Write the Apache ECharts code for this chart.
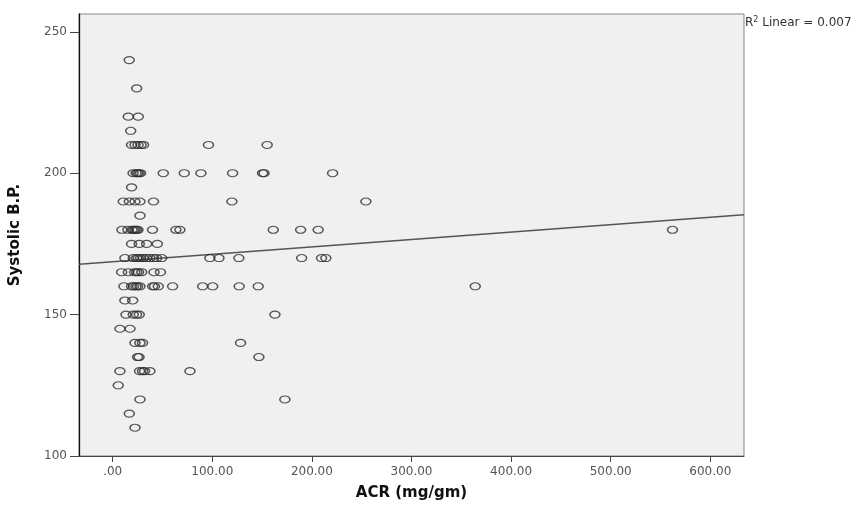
<!DOCTYPE html>
<html>
<head>
<meta charset="utf-8">
<script src="https://cdn.jsdelivr.net/npm/echarts@6/dist/echarts.min.js"></script>
<style>html,body{margin:0;padding:0;background:#fff}#c{width:861px;height:506px}</style>
</head>
<body>
<div id="c"></div>
<script>
// ACR (mg/gm) values and matching Systolic B.P. values
var acr = [
  16.6,
  24.1,
  15.7, 25.7,
  18.1,
  19, 22.5, 25.5, 28.5, 31, 96.2, 155.1,
  20.5, 23.5, 25, 26.5, 28, 50.8, 71.9, 88.6, 120.4, 150.5, 152, 220.8,
  19,
  10.6, 16.7, 22.4, 27.4, 41, 119.7, 254.2,
  27.4,
  9.3, 15.3, 19.4, 21, 22.4, 24, 25.4, 40, 63.5, 67.5, 161.2, 188.7, 206.3, 562,
  19, 26.7, 34.1, 44.8,
  12.3, 20.7, 24, 25.7, 28, 30.7, 34, 37.4, 41, 44.1, 49.2, 97.6, 106.7, 126.7, 189.7, 209.7, 214,
  9, 15.7, 22, 24.1, 26, 29.1, 41.5, 48,
  11.3, 19, 21, 23.4, 25, 27.4, 40.1, 42, 45.8, 60.2, 90.3, 100.4, 127, 146.1, 364,
  12.3, 20.1,
  13.4, 20.7, 24, 26.7, 162.9,
  7.3, 17.4,
  22.4, 27.4, 30, 128.4,
  25, 26.5, 146.8,
  7.3, 27, 30, 32, 37.4, 77.6,
  5.6,
  27.4, 172.9,
  16.7,
  22.4
];
var sbp = [
  240,
  230,
  220, 220,
  215,
  210, 210, 210, 210, 210, 210, 210,
  200, 200, 200, 200, 200, 200, 200, 200, 200, 200, 200, 200,
  195,
  190, 190, 190, 190, 190, 190, 190,
  185,
  180, 180, 180, 180, 180, 180, 180, 180, 180, 180, 180, 180, 180, 180,
  175, 175, 175, 175,
  170, 170, 170, 170, 170, 170, 170, 170, 170, 170, 170, 170, 170, 170, 170, 170, 170,
  165, 165, 165, 165, 165, 165, 165, 165,
  160, 160, 160, 160, 160, 160, 160, 160, 160, 160, 160, 160, 160, 160, 160,
  155, 155,
  150, 150, 150, 150, 150,
  145, 145,
  140, 140, 140, 140,
  135, 135, 135,
  130, 130, 130, 130, 130, 130,
  125,
  120, 120,
  115,
  110
];
// fitted linear line end points
var fitX = [-33.8, 633.8];
var fitY = [167.8, 185.3];
var xTicks = [0, 100, 200, 300, 400, 500, 600];
var yTicks = [100, 150, 200, 250];
var r2Label = '0.007';

var points = acr.map(function (v, i) { return [v, sbp[i]]; });
var fitLine = fitX.map(function (v, i) { return [v, fitY[i]]; });

var chart = echarts.init(document.getElementById('c'), null, {renderer: 'canvas'});
var labelFont = 'DejaVu Sans';
chart.setOption({
  animation: false,
  backgroundColor: '#ffffff',
  grid: {
    left: 79, right: 117, top: 14, bottom: 48,
    show: true, backgroundColor: '#f0f0f0', borderColor: '#858585', borderWidth: 1
  },
  xAxis: {
    type: 'value', min: -33.8, max: 633.8,
    name: 'ACR (mg/gm)', nameLocation: 'middle', nameGap: 30,
    nameTextStyle: {fontFamily: labelFont, fontWeight: 'bold', fontSize: 15, color: '#111'},
    axisLine: {show: true, onZero: false, lineStyle: {color: '#444', width: 1}},
    axisTick: {show: true, length: 6, customValues: xTicks, lineStyle: {color: '#444'}},
    axisLabel: {customValues: xTicks, fontFamily: labelFont, fontSize: 12, color: '#555', margin: 10,
      formatter: function (v) { return v === 0 ? '.00' : v.toFixed(2); }},
    splitLine: {show: false}
  },
  yAxis: {
    type: 'value', min: 100, max: 256.3,
    name: 'Systolic B.P.', nameLocation: 'middle', nameGap: 56,
    nameTextStyle: {fontFamily: labelFont, fontWeight: 'bold', fontSize: 15, color: '#111'},
    axisLine: {show: true, onZero: false, lineStyle: {color: '#111', width: 1.3}},
    axisTick: {show: true, length: 9, customValues: yTicks, lineStyle: {color: '#444'}},
    axisLabel: {customValues: yTicks, fontFamily: labelFont, fontSize: 12, color: '#555', margin: 12},
    splitLine: {show: false}
  },
  graphic: [{
    type: 'text', left: 745, top: 16,
    style: {
      text: '{a|R}{s|2}{a| Linear = ' + r2Label + '}',
      rich: {
        a: {fontFamily: labelFont, fontSize: 12, fill: '#333', verticalAlign: 'bottom'},
        s: {fontFamily: labelFont, fontSize: 8, fill: '#333', verticalAlign: 'top', padding: [0, 0, 5, 0]}
      }
    }
  }],
  series: [{
    type: 'scatter',
    data: points,
    symbol: 'circle',
    symbolSize: [10, 7],
    itemStyle: {color: 'rgba(0,0,0,0)', borderColor: '#2e2e2e', borderWidth: 1.3},
    silent: true,
    z: 3
  }, {
    type: 'line',
    data: fitLine,
    showSymbol: false,
    lineStyle: {color: '#555', width: 1.5},
    silent: true,
    z: 2
  }]
});
</script>
</body>
</html>
